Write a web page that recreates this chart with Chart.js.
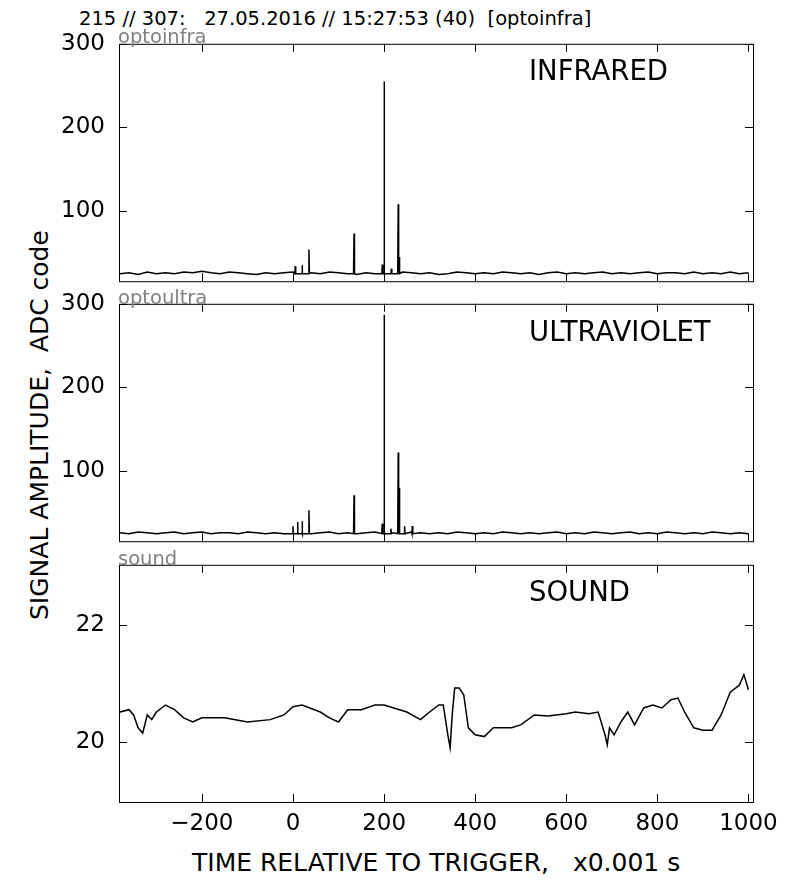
<!DOCTYPE html>
<html><head><meta charset="utf-8">
<script src="https://cdn.jsdelivr.net/npm/chart.js@4"></script>
<style>
body{margin:0;width:792px;height:882px;background:#fff;position:relative;font-family:"DejaVu Sans",sans-serif;overflow:hidden}
canvas{position:absolute;left:0}
.t{position:absolute;white-space:pre;color:#000}
.g{position:absolute;color:#808080;font-size:19.5px}
.p{position:absolute;font-size:27.5px;left:529px}
</style></head><body>
<div class="t" style="left:79px;top:7px;font-size:19.5px">215 // 307:   27.05.2016 // 15:27:53 (40)  [optoinfra]</div>
<div class="t" style="left:192px;top:848px;font-size:25px">TIME RELATIVE TO TRIGGER,   x0.001 s</div>
<div class="t" style="left:25px;top:620px;font-size:25px;transform-origin:0 0;transform:rotate(-90deg)">SIGNAL AMPLITUDE,  ADC code</div>
<canvas id="c1" width="792" height="277" style="top:24px"></canvas>
<canvas id="c2" width="792" height="277" style="top:284px"></canvas>
<canvas id="c3" width="792" height="297" style="top:545px"></canvas>
<div class="g" style="left:118px;top:25px">optoinfra</div>
<div class="g" style="left:118px;top:286px">optoultra</div>
<div class="g" style="left:118px;top:547px">sound</div>
<div class="p" style="top:54px">INFRARED</div>
<div class="p" style="top:315px">ULTRAVIOLET</div>
<div class="p" style="top:575px">SOUND</div>
<script>
const xTicks=[-200,0,200,400,600,800,1000];
const optTicks=[100,200,300];
const soundTicks=[20,22];
const baseStart=-380, baseStep=20;
const irBase=[25,26,24,27,25,26,25,27,26,28,26,25,27,26,25,24,26,25,26,27,25,26,25,27,26,25,24,26,25,26,25,27,26,25,26,24,25,27,26,25,26,25,27,26,25,26,24,26,27,25,26,25,26,27,25,26,25,26,27,25,26,26,25,27,25,26,25,27,25,26];
const irSpikes=[[5,34],[20,35],[35,54],[134,73],[196,36],[200,255],[216,31],[231,108],[233,45]];
const uvBase=[26,25,27,26,25,26,27,25,26,27,25,26,26,25,27,26,25,26,25,27,26,25,26,27,25,26,25,26,27,25,26,25,27,26,25,26,25,27,26,25,26,25,27,26,25,26,25,26,27,25,26,25,27,26,25,26,27,25,26,25,27,26,25,26,25,27,26,25,26,25];
const uvSpikes=[[0,34],[10,39],[20,40],[35,53],[134,71],[196,37],[200,287],[215,31],[231,122],[233,80],[245,34],[262,34]];
const soundX=[-380,-360,-350,-340,-330,-320,-310,-300,-280,-260,-240,-220,-200,-150,-100,-50,-20,0,20,60,80,100,120,150,180,200,250,280,300,320,330,340,345,350,355,365,375,385,400,420,440,480,500,530,560,600,620,650,670,685,690,695,705,720,735,750,770,790,810,830,845,860,880,900,920,940,960,980,990,1000];
const soundY=[20.51,20.55,20.46,20.24,20.15,20.46,20.38,20.51,20.63,20.55,20.41,20.34,20.41,20.41,20.34,20.38,20.46,20.6,20.63,20.51,20.41,20.34,20.55,20.55,20.63,20.63,20.51,20.38,20.51,20.63,20.63,20.12,19.9,20.5,20.92,20.92,20.8,20.24,20.12,20.09,20.24,20.24,20.29,20.46,20.44,20.48,20.51,20.48,20.51,20.12,19.95,20.24,20.12,20.34,20.51,20.29,20.58,20.63,20.58,20.72,20.75,20.51,20.24,20.2,20.2,20.46,20.85,20.97,21.15,20.89];

function merge(base,spikes){
  const pts=base.map((v,i)=>({x:baseStart+i*baseStep,y:v}));
  spikes.forEach(([x,y])=>{pts.push({x:x-1,y:25});pts.push({x:x,y:y});pts.push({x:x+1,y:25});});
  return pts.sort((a,b)=>a.x-b.x);
}
const frame={id:'frame',afterDraw(ch){
  const c=ch.ctx,a=ch.chartArea,xs=ch.scales.x,ys=ch.scales.y;
  c.save();c.strokeStyle='#000';c.lineWidth=1;
  c.strokeRect(a.left+0.5,a.top+0.5,a.right-a.left,a.bottom-a.top);
  c.beginPath();
  xTicks.forEach(v=>{const p=Math.round(xs.getPixelForValue(v))+0.5;c.moveTo(p,a.bottom);c.lineTo(p,a.bottom-8);c.moveTo(p,a.top);c.lineTo(p,a.top+8);});
  ys.ticks.forEach(t=>{const p=Math.round(ys.getPixelForValue(t.value))+0.5;c.moveTo(a.left,p);c.lineTo(a.left+8,p);c.moveTo(a.right,p);c.lineTo(a.right-8,p);});
  c.stroke();c.restore();
}};
function make(id,data,ymin,ymax,yt,showX){
  new Chart(document.getElementById(id),{type:'line',
    data:{datasets:[{data:data,borderColor:'#000',borderWidth:1.5,pointRadius:0,tension:0,fill:false}]},
    options:{responsive:false,animation:false,parsing:false,
      layout:{padding:{left:0,right:39,top:10,bottom:0}},
      plugins:{legend:{display:false},tooltip:{enabled:false}},
      scales:{
        x:{type:'linear',min:-382,max:1010,display:showX,
          afterBuildTicks:s=>{s.ticks=xTicks.map(v=>({value:v}));},
          afterFit:s=>{if(showX)s.height=40;},
          grid:{display:false},border:{display:false},
          ticks:{color:'#000',font:{family:'DejaVu Sans',size:23},padding:0,maxRotation:0,autoSkip:false,
            callback:v=>String(v).replace('-','\u2212')}},
        y:{type:'linear',min:ymin,max:ymax,
          afterBuildTicks:s=>{s.ticks=yt.map(v=>({value:v}));},
          afterFit:s=>{s.width=119;},
          grid:{display:false},border:{display:false},
          ticks:{color:'#000',font:{family:'DejaVu Sans',size:23},padding:6,autoSkip:false}}
      }},plugins:[frame]});
}
make('c1',merge(irBase,irSpikes),16,300,optTicks,false);
make('c2',merge(uvBase,uvSpikes),16,300,optTicks,false);
make('c3',soundX.map((x,i)=>({x:x,y:soundY[i]})),18.97,23.03,soundTicks,true);
</script></body></html>
